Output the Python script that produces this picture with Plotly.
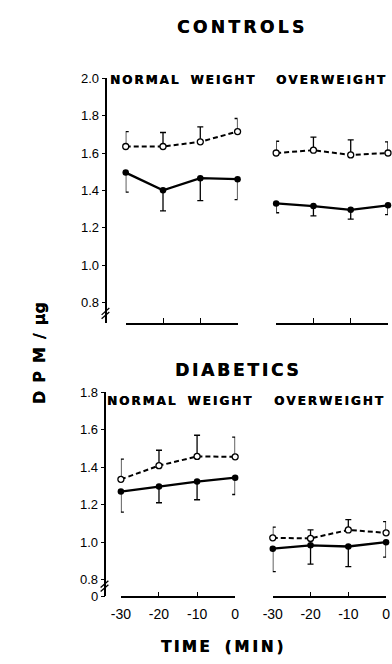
import plotly.graph_objects as go

W, H = 392, 664

time = [-30, -20, -10, 0]
time_ticks = [-30, -20, -10, 0]
time_labels = ["-30", "-20", "-10", "0"]

ctrl_y_ticks = [0.8, 1.0, 1.2, 1.4, 1.6, 1.8, 2.0]
ctrl_y_labels = ["0.8", "1.0", "1.2", "1.4", "1.6", "1.8", "2.0"]
diab_y_ticks = [0.711, 0.8, 1.0, 1.2, 1.4, 1.6, 1.8]
diab_y_labels = ["0", "0.8", "1.0", "1.2", "1.4", "1.6", "1.8"]

# Controls, normal weight
ctrl_nw_open = [1.635, 1.635, 1.66, 1.715]
ctrl_nw_open_err = [0.08, 0.075, 0.08, 0.07]
ctrl_nw_fill = [1.495, 1.40, 1.465, 1.46]
ctrl_nw_fill_err = [0.105, 0.11, 0.12, 0.11]
# Controls, overweight
ctrl_ow_open = [1.60, 1.615, 1.59, 1.60]
ctrl_ow_open_err = [0.063, 0.07, 0.08, 0.06]
ctrl_ow_fill = [1.33, 1.316, 1.296, 1.32]
ctrl_ow_fill_err = [0.05, 0.053, 0.05, 0.05]
# Diabetics, normal weight
diab_nw_open = [1.335, 1.408, 1.457, 1.455]
diab_nw_open_err = [0.108, 0.082, 0.113, 0.105]
diab_nw_fill = [1.27, 1.297, 1.323, 1.344]
diab_nw_fill_err = [0.11, 0.087, 0.097, 0.09]
# Diabetics, overweight
diab_ow_open = [1.023, 1.02, 1.065, 1.05]
diab_ow_open_err = [0.057, 0.046, 0.055, 0.06]
diab_ow_fill = [0.965, 0.983, 0.977, 1.0]
diab_ow_fill_err = [0.122, 0.10, 0.107, 0.08]

panels = [
    ("x", "y", ctrl_nw_open, ctrl_nw_open_err, ctrl_nw_fill, ctrl_nw_fill_err),
    ("x2", "y2", ctrl_ow_open, ctrl_ow_open_err, ctrl_ow_fill, ctrl_ow_fill_err),
    ("x3", "y3", diab_nw_open, diab_nw_open_err, diab_nw_fill, diab_nw_fill_err),
    ("x4", "y4", diab_ow_open, diab_ow_open_err, diab_ow_fill, diab_ow_fill_err),
]

fig = go.Figure()
for xa, ya, op, ope, fi, fie in panels:
    fig.add_trace(go.Scatter(
        x=time, y=op, xaxis=xa, yaxis=ya, mode="lines+markers", cliponaxis=False,
        line=dict(color="black", width=2, dash="5px,3px"),
        marker=dict(symbol="circle", size=6, color="white", line=dict(color="black", width=1.3)),
        error_y=dict(type="data", symmetric=False, array=ope, arrayminus=[0] * len(ope),
                     color="black", thickness=1.3, width=3),
        showlegend=False))
    fig.add_trace(go.Scatter(
        x=time, y=fi, xaxis=xa, yaxis=ya, mode="lines+markers", cliponaxis=False,
        line=dict(color="black", width=2.3),
        marker=dict(symbol="circle", size=6.5, color="black"),
        error_y=dict(type="data", symmetric=False, array=[0] * len(fie), arrayminus=fie,
                     color="black", thickness=1.3, width=3),
        showlegend=False))


def px_x(v):
    return v / W


def px_y(v):
    return 1 - v / H


ytickfont = dict(family="Liberation Sans, Arial, sans-serif", size=13, color="black")
xtickfont = dict(family="Liberation Sans, Arial, sans-serif", size=14, color="black")

xcommon = dict(range=[-30, 0], tickvals=time_ticks, ticktext=time_labels, ticks="inside",
               ticklen=5, tickwidth=1.3, tickcolor="black", showline=True, linecolor="black",
               linewidth=1.5, showgrid=False, zeroline=False, tickfont=xtickfont,
               ticklabelstandoff=4)
ycommon = dict(ticks="outside", ticklen=4, tickwidth=1.3, tickcolor="black", showline=True,
               linecolor="black", linewidth=1.5, showgrid=False, zeroline=False, tickfont=ytickfont)

top_dom = [px_y(323), px_y(73)]
bot_dom = [px_y(603), px_y(394)]

fig.update_layout(
    width=W, height=H, margin=dict(l=0, r=0, t=0, b=0), autosize=False,
    paper_bgcolor="white", plot_bgcolor="rgba(0,0,0,0)",
    xaxis=dict(xcommon, domain=[px_x(120), px_x(236)], anchor="y", showticklabels=False),
    xaxis2=dict(xcommon, domain=[px_x(276), 1.0], anchor="y2", showticklabels=False),
    xaxis3=dict(xcommon, domain=[px_x(115), px_x(233.5)], anchor="y3", showticklabels=True),
    xaxis4=dict(xcommon, domain=[px_x(272.5), px_x(390)], anchor="y4", showticklabels=True),
    yaxis=dict(ycommon, domain=top_dom, range=[0.691, 2.0], anchor="free", position=px_x(100),
               tickvals=ctrl_y_ticks, ticktext=ctrl_y_labels),
    yaxis2=dict(domain=top_dom, range=[0.691, 2.0], anchor="x2", visible=False),
    yaxis3=dict(ycommon, domain=bot_dom, range=[0.711, 1.8], anchor="free", position=px_x(99),
                tickvals=diab_y_ticks, ticktext=diab_y_labels),
    yaxis4=dict(domain=bot_dom, range=[0.711, 1.8], anchor="x4", visible=False),
)


def spaced(s, sep="\u2006"):
    return sep.join(list(s))


bold = "DejaVu Sans, sans-serif"
EM = "\u2003"
ann = [
    (spaced("CONTROLS", "\u2009"), 239, 20, 17),
    (spaced("DIABETICS"), 235, 371, 17),
    (spaced("NORMAL") + EM + spaced("WEIGHT"), 179, 75, 12),
    (spaced("OVERWEIGHT"), 333, 75, 12),
    (spaced("NORMAL") + EM + spaced("WEIGHT"), 176, 403, 12),
    (spaced("OVERWEIGHT"), 331, 403, 12),
    (spaced("TIME") + EM + spaced("(MIN)", "\u2009"), 220, 655, 15),
]
for text, cx, cy, sz in ann:
    fig.add_annotation(text="<b>" + text + "</b>", x=px_x(cx), y=px_y(cy), xref="paper", yref="paper",
                       showarrow=False, xanchor="center", yanchor="middle",
                       font=dict(family=bold, size=sz, color="black", shadow="0.4px 0px 0px black"))

fig.add_annotation(text="<b>D\u2002P\u2002M\u2002/\u2002µg</b>", x=px_x(30), y=px_y(354),
                   xref="paper", yref="paper", showarrow=False, textangle=-90,
                   xanchor="center", yanchor="middle",
                   font=dict(family=bold, size=16, color="black", shadow="0px 0.4px 0px black"))

# axis break marks
for (x0, y0) in [(95, 315), (95, 319), (94, 594), (94, 598)]:
    fig.add_shape(type="line", xref="paper", yref="paper",
                  x0=px_x(x0), y0=px_y(y0), x1=px_x(x0 + 8), y1=px_y(y0 - 7),
                  line=dict(color="black", width=1.3))

fig.write_html("out.html", config={"displayModeBar": False},
               post_script="document.body.style.margin='0';document.body.style.overflow='hidden';")
